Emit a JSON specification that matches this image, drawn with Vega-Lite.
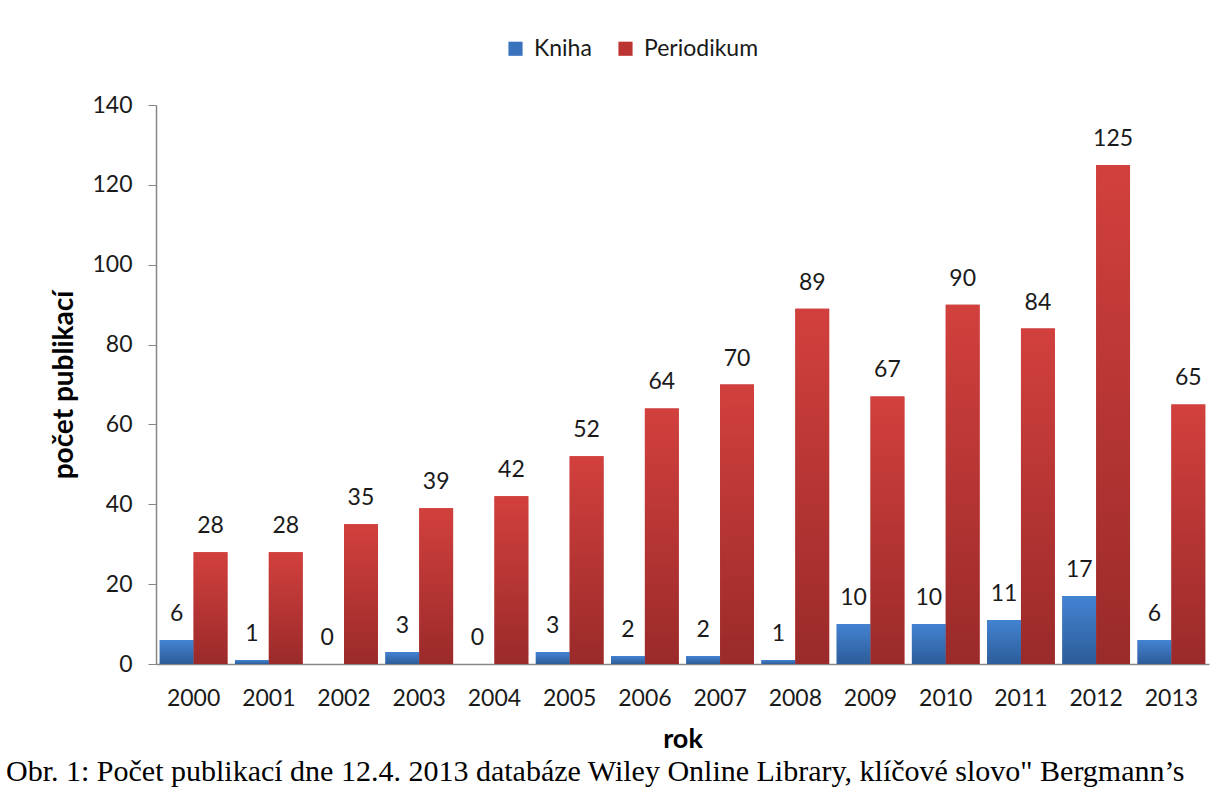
{
  "$schema": "https://vega.github.io/schema/vega-lite/v6.json",
  "width": 1224,
  "height": 787,
  "autosize": {"type": "fit", "contains": "padding"},
  "padding": {"left": 5, "top": 94, "right": 15, "bottom": 0},
  "background": "white",
  "title": {
    "text": "Obr. 1: Počet publikací dne 12.4. 2013 databáze Wiley Online Library, klíčové slovo\" Bergmann’s",
    "orient": "bottom",
    "anchor": "start",
    "frame": "bounds",
    "font": "Liberation Serif",
    "fontSize": 30,
    "fontWeight": "normal",
    "color": "black",
    "offset": 5,
    "dx": -45
  },
  "data": {
    "values": [
      {"rok": "2000", "series": "Kniha", "pocet": 6},
      {"rok": "2000", "series": "Periodikum", "pocet": 28},
      {"rok": "2001", "series": "Kniha", "pocet": 1},
      {"rok": "2001", "series": "Periodikum", "pocet": 28},
      {"rok": "2002", "series": "Kniha", "pocet": 0},
      {"rok": "2002", "series": "Periodikum", "pocet": 35},
      {"rok": "2003", "series": "Kniha", "pocet": 3},
      {"rok": "2003", "series": "Periodikum", "pocet": 39},
      {"rok": "2004", "series": "Kniha", "pocet": 0},
      {"rok": "2004", "series": "Periodikum", "pocet": 42},
      {"rok": "2005", "series": "Kniha", "pocet": 3},
      {"rok": "2005", "series": "Periodikum", "pocet": 52},
      {"rok": "2006", "series": "Kniha", "pocet": 2},
      {"rok": "2006", "series": "Periodikum", "pocet": 64},
      {"rok": "2007", "series": "Kniha", "pocet": 2},
      {"rok": "2007", "series": "Periodikum", "pocet": 70},
      {"rok": "2008", "series": "Kniha", "pocet": 1},
      {"rok": "2008", "series": "Periodikum", "pocet": 89},
      {"rok": "2009", "series": "Kniha", "pocet": 10},
      {"rok": "2009", "series": "Periodikum", "pocet": 67},
      {"rok": "2010", "series": "Kniha", "pocet": 10},
      {"rok": "2010", "series": "Periodikum", "pocet": 90},
      {"rok": "2011", "series": "Kniha", "pocet": 11},
      {"rok": "2011", "series": "Periodikum", "pocet": 84},
      {"rok": "2012", "series": "Kniha", "pocet": 17},
      {"rok": "2012", "series": "Periodikum", "pocet": 125},
      {"rok": "2013", "series": "Kniha", "pocet": 6},
      {"rok": "2013", "series": "Periodikum", "pocet": 65}
    ]
  },
  "encoding": {
    "x": {
      "field": "rok",
      "type": "nominal",
      "scale": {"paddingInner": 0.1, "paddingOuter": 0.05},
      "axis": {
        "title": "rok",
        "labelAngle": 0,
        "ticks": false,
        "labelPadding": 23,
        "labelFont": "Lato",
        "labelFontSize": 23,
        "labelColor": "#1a1a1a",
        "domainColor": "#868686",
        "domainWidth": 1.5,
        "titleFont": "Lato",
        "titleFontSize": 27,
        "titleFontWeight": "bold",
        "titleColor": "black",
        "titlePadding": 16
      }
    },
    "xOffset": {"field": "series", "type": "nominal", "sort": ["Kniha", "Periodikum"]},
    "y": {
      "field": "pocet",
      "type": "quantitative",
      "scale": {"domain": [0, 140], "nice": false},
      "axis": {
        "values": [0, 20, 40, 60, 80, 100, 120, 140],
        "grid": false,
        "title": "počet publikací",
        "tickSize": 8,
        "tickColor": "#868686",
        "domainColor": "#868686",
        "domainWidth": 1.5,
        "labelPadding": 16,
        "labelFont": "Lato",
        "labelFontSize": 23,
        "labelColor": "#1a1a1a",
        "titleFont": "Lato",
        "titleFontSize": 28,
        "titleFontWeight": "bold",
        "titleColor": "black",
        "titlePadding": 13
      }
    }
  },
  "layer": [
    {
      "mark": {"type": "bar"},
      "encoding": {
        "color": {
          "field": "series",
          "type": "nominal",
          "scale": {"domain": ["Kniha", "Periodikum"], "range": ["#3a72bd", "#bd3532"]},
          "legend": {
            "title": null,
            "orient": "none",
            "legendX": 348,
            "legendY": -68,
            "direction": "horizontal",
            "symbolType": "square",
            "symbolSize": 200,
            "symbolStrokeWidth": 0,
            "labelFont": "Lato",
            "labelFontSize": 23,
            "labelColor": "#1a1a1a",
            "labelOffset": 7,
            "columnPadding": 22
          }
        }
      }
    },
    {
      "mark": {"type": "bar"},
      "encoding": {
        "fill": {
          "condition": {
            "test": "datum.series === 'Kniha'",
            "value": {
              "gradient": "linear",
              "x1": 0, "y1": 0, "x2": 0, "y2": 1,
              "stops": [
                {"offset": 0, "color": "#4383d2"},
                {"offset": 1, "color": "#2d5c99"}
              ]
            }
          },
          "value": {
            "gradient": "linear",
            "x1": 0, "y1": 0, "x2": 0, "y2": 1,
            "stops": [
              {"offset": 0, "color": "#d2403d"},
              {"offset": 1, "color": "#9a2a2a"}
            ]
          }
        }
      }
    },
    {
      "mark": {
        "type": "text",
        "baseline": "alphabetic",
        "dy": -19,
        "font": "Lato",
        "fontSize": 23,
        "color": "#1a1a1a"
      },
      "encoding": {
        "text": {"field": "pocet", "type": "quantitative"}
      }
    }
  ],
  "config": {
    "view": {"stroke": null}
  }
}
